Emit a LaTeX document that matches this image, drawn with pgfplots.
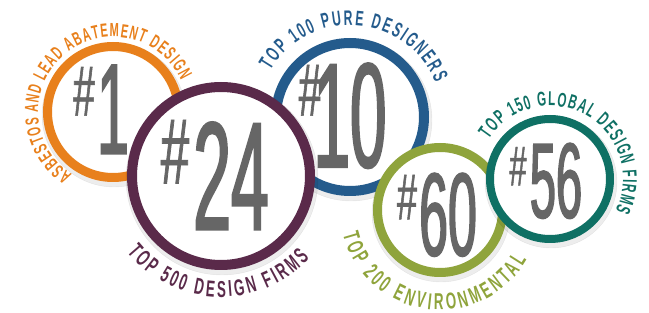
\documentclass[border=0pt]{standalone}
\usepackage{pgfplots}
\pgfplotsset{compat=1.18}
\usepackage{fontspec}
\setmainfont{Liberation Sans}
\newfontfamily\lblfont[FakeStretch=0.58]{Liberation Sans}
\newfontfamily\numfont[FakeStretch=0.44, FakeBold=1.3]{Liberation Sans}
\newfontfamily\hashfont[FakeStretch=0.55, FakeBold=0.8]{Liberation Sans}
\usetikzlibrary{decorations.text}
\definecolor{cOrange}{HTML}{E8801C}
\definecolor{cPurple}{HTML}{5A2A4A}
\definecolor{cBlue}{HTML}{245B8C}
\definecolor{cGreen}{HTML}{8FA43C}
\definecolor{cTeal}{HTML}{0F7064}
\definecolor{cNum}{HTML}{666666}
\pgfplotsset{canvas/.style={x=1pt, y=1pt, xmin=0, xmax=649, ymin=0, ymax=313, hide axis, clip=false, disabledatascaling, anchor=south west, at={(0pt,0pt)}}}
% y values are 313 - (pixel row of the reference)
\newcommand{\ring}[5]{% x y marksize linewidth color
  \addplot[only marks, mark=*, mark size=#3+#4/2+2pt, mark options={draw=none, fill=black, opacity=0.07}] coordinates {(#1+1,#2-3)};
  \addplot[only marks, mark=*, mark size=#3, mark options={fill=white, draw=#5, line width=#4}] coordinates {(#1,#2)};
}
\newcommand{\arctext}[7]{% cx cy startangle endangle radius color text(with format)
  \path[decorate, decoration={text along path, text color=#6, text align=fit to path, text={#7}}]
  (axis cs:#1,#2) ++(canvas polar cs:angle=#3, radius=#5pt) arc[start angle=#3, end angle=#4, radius=#5pt];
}
\newcommand{\numnode}[4]{% x(center) y(top) fontsize digits
  \node[anchor=north, inner sep=0pt, outer sep=0pt, text=cNum] at (axis cs:#1,#2) {\numfont\fontsize{#3}{#3}\selectfont #4};
}
\newcommand{\hashnode}[3]{% x(center) y(top) fontsize
  \node[anchor=north, inner sep=0pt, outer sep=0pt, text=cNum] at (axis cs:#1,#2) {\hashfont\fontsize{#3}{#3}\selectfont\#};
}
\begin{document}
\begin{tikzpicture}
\begin{axis}[canvas]
% orange
\ring{113}{201}{65.5pt}{9pt}{cOrange}
\arctext{113}{201}{237}{25}{75}{cOrange}{|\lblfont\bfseries\fontsize{19}{19}\selectfont|ASBESTOS AND LEAD ABATEMENT DESIGN}
% blue
\ring{350}{196}{74pt}{10pt}{cBlue}
\arctext{350}{196}{150}{22}{92}{cBlue}{|\lblfont\bfseries\fontsize{21}{21}\selectfont|TOP 100 PURE DESIGNERS}
% purple
\ring{221}{137}{89pt}{10pt}{cPurple}
\arctext{221}{137}{219}{317}{121}{cPurple}{|\lblfont\bfseries\fontsize{23}{23}\selectfont|TOP 500 DESIGN FIRMS}
% green
\ring{440}{103}{62.5pt}{9pt}{cGreen}
\arctext{440}{103}{194}{330}{100}{cGreen}{|\lblfont\bfseries\fontsize{23}{23}\selectfont|TOP 200 ENVIRONMENTAL}
% teal
\ring{550}{134}{60pt}{8pt}{cTeal}
\arctext{550}{134}{147}{-26}{73}{cTeal}{|\lblfont\bfseries\fontsize{20}{20}\selectfont|TOP 150 GLOBAL DESIGN FIRMS}
\end{axis}
\begin{axis}[canvas]
% rank numbers
\hashnode{84}{246}{71}
\numnode{113}{248}{129}{1}
\hashnode{175}{193}{93}
\numnode{231}{191}{154}{24}
\hashnode{310}{248}{74}
\numnode{350}{250}{149}{10}
\hashnode{407}{138}{65}
\numnode{448}{140}{118}{60}
\hashnode{518}{166}{56}
\numnode{556}{170}{107}{56}
\end{axis}
\pgfresetboundingbox
\path (current axis.south west) rectangle (current axis.north east);
\end{tikzpicture}
\end{document}
